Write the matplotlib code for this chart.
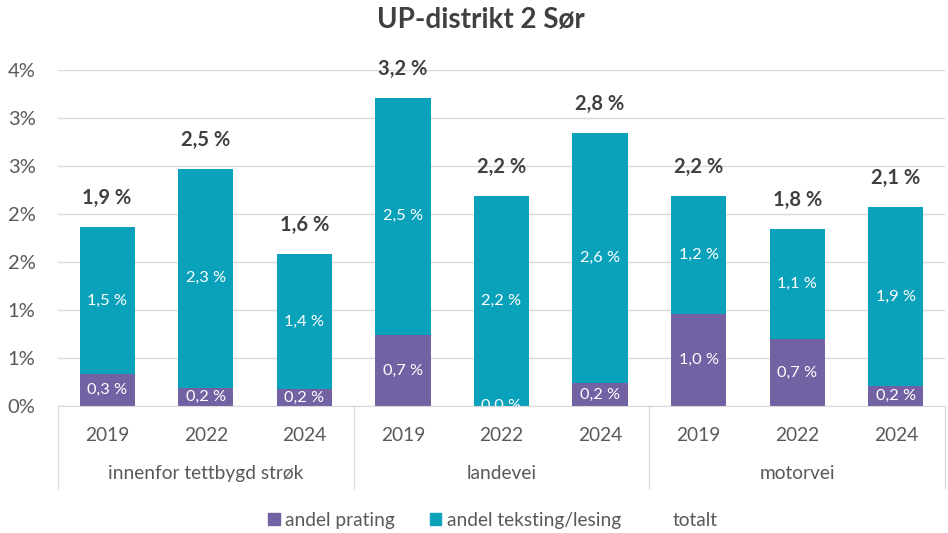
import matplotlib
matplotlib.use("Agg")
import matplotlib.pyplot as plt
from matplotlib.patches import Patch

plt.rcParams['font.family'] = ['Lato', 'DejaVu Sans']

# data (percent)
groups = ['innenfor tettbygd strøk', 'landevei', 'motorvei']
years = ['2019', '2022', '2024']
prating = [0.33, 0.19, 0.18, 0.74, 0.0, 0.24, 0.96, 0.70, 0.21]
teksting = [1.53, 2.28, 1.40, 2.47, 2.19, 2.60, 1.23, 1.14, 1.86]
yticks = [0, 0.5, 1.0, 1.5, 2.0, 2.5, 3.0, 3.5]
ytick_labels = ['0%', '1%', '1%', '2%', '2%', '3%', '3%', '4%']

purple = '#7262a3'
teal = '#0aa1bb'
grid_c = '#d9d9d9'
txt_c = '#595959'

def fmt(v):
    return ('%.1f %%' % v).replace('.', ',')

fig = plt.figure(figsize=(9.48, 5.33), dpi=100)
ax = fig.add_axes([0.061, 0.238, 0.936, 0.631])

x = list(range(len(prating)))
totals = [p + t for p, t in zip(prating, teksting)]
w = 0.56

ax.bar(x, prating, w, color=purple, zorder=2)
ax.bar(x, teksting, w, bottom=prating, color=teal, zorder=2)

for i in x:
    ax.text(i, prating[i] / 2, fmt(prating[i]), ha='center', va='center',
            color='white', fontsize=11.8, zorder=3, clip_on=True)
    ax.text(i, prating[i] + teksting[i] / 2, fmt(teksting[i]), ha='center',
            va='center', color='white', fontsize=11.8, zorder=3)
    ax.annotate(fmt(totals[i]), (i, totals[i]), xytext=(0, 21),
                textcoords='offset points', ha='center', va='center',
                fontsize=14.5, fontweight='bold', color='#404040')

ax.set_xlim(-0.5, len(x) - 0.5)
ax.set_ylim(0, 3.5)
ax.set_yticks(yticks)
ax.set_yticklabels(ytick_labels, fontsize=14.5, color=txt_c)
ax.yaxis.grid(True, color=grid_c, lw=1, zorder=0)
ax.tick_params(axis='y', length=0, pad=16)
ax.set_xticks([])
for s in ['top', 'right', 'left']:
    ax.spines[s].set_visible(False)
ax.spines['bottom'].set_color(grid_c)

# multi-level category axis
for i in x:
    ax.text(i, -0.086, years[i % 3], transform=ax.get_xaxis_transform(),
            ha='center', va='center', fontsize=13.8, color=txt_c)
for g, name in enumerate(groups):
    ax.text(g * 3 + 1, -0.2, name, transform=ax.get_xaxis_transform(),
            ha='center', va='center', fontsize=13.8, color=txt_c)
for b in [-0.5, 2.5, 5.5, 8.5]:
    ax.plot([b, b], [0, -0.244], transform=ax.get_xaxis_transform(),
            color=grid_c, lw=1, clip_on=False)

fig.text(0.507, 0.962, 'UP-distrikt 2 Sør', ha='center', va='center',
         fontsize=20, fontweight='bold', color='#404040')

handles = [Patch(color=purple), Patch(color=teal), Patch(color='none')]
fig.legend(handles, ['andel prating', 'andel teksting/lesing', 'totalt'],
           loc='center', bbox_to_anchor=(0.52, 0.024), ncol=3, frameon=False,
           fontsize=13.8, handlelength=0.6, handleheight=0.6,
           handletextpad=0.3, columnspacing=1.8, labelcolor=txt_c)

fig.savefig('out.png', dpi=100)
